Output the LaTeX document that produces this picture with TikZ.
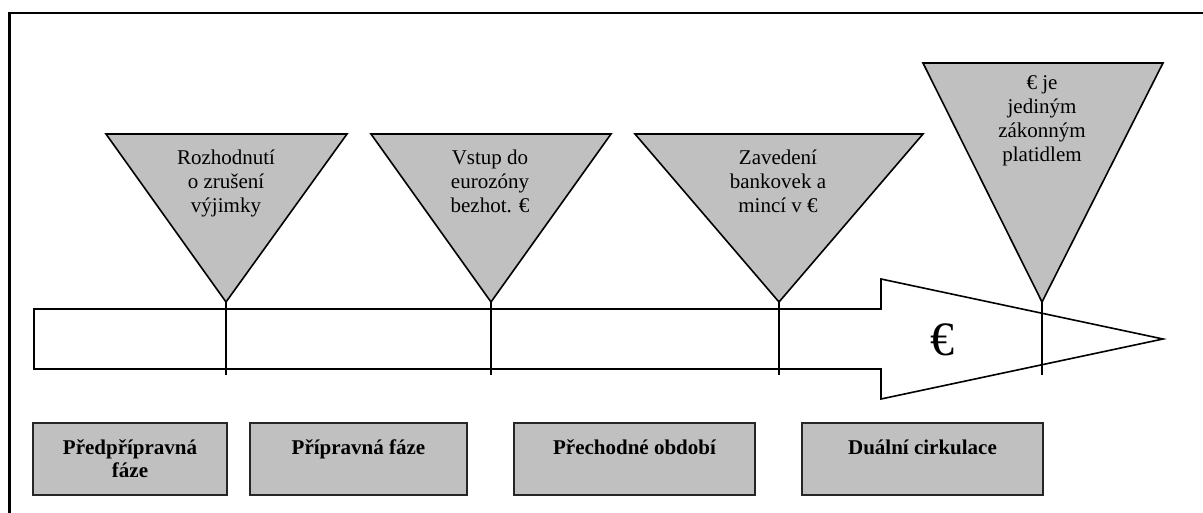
\documentclass[tikz,border=0pt]{standalone}
\usepackage{fontspec}
\setmainfont{Liberation Serif}
\definecolor{phasegray}{HTML}{C0C0C0}
\tikzset{
  frame/.style={line width=2.5pt, black},
  marker/.style={fill=phasegray, draw=black, line width=1.6pt, line join=miter},
  timeline/.style={fill=white, draw=black, line width=1.6pt, line join=miter},
  tick/.style={draw=black, line width=1.8pt},
  event/.style={font=\fontsize{21}{24}\selectfont, align=center, inner sep=0pt, anchor=base},
  phase/.style={fill=phasegray, draw=black!85, line width=2.4pt, minimum height=72pt, inner sep=0pt},
  phasetext/.style={font=\fontsize{21}{23}\selectfont\bfseries, align=center, inner sep=0pt, anchor=base},
}
\begin{document}
\begin{tikzpicture}[x=1pt, y=-1pt]
\useasboundingbox (0,0) rectangle (1203,513);

% outer frame (open to the right and bottom)
\draw[frame] (9.5,513) -- (9.5,13) -- (1203,13);

% time arrow
\draw[timeline] (34,309) -- (881,309) -- (881,279) -- (1163,339)
  -- (881,399) -- (881,369) -- (34,369) -- cycle;
\node[font=\fontsize{48}{48}\selectfont, inner sep=0pt] (eur) at (942,340) {€};

% milestone markers
\coordinate (a1) at (226,302);
\coordinate (a2) at (491,302);
\coordinate (a3) at (779,302);
\coordinate (a4) at (1042,302);
\coordinate (e1) at (226,375);
\coordinate (e2) at (491,375);
\coordinate (e3) at (779,375);
\coordinate (e4) at (1042,375);

\draw[marker] (106,134) -- (347,134) -- (a1) -- cycle;
\draw[marker] (371,134) -- (611,134) -- (a2) -- cycle;
\draw[marker] (635,134) -- (923,134) -- (a3) -- cycle;
\draw[marker] (923,63) -- (1163,63) -- (a4) -- cycle;

\draw[tick] (a1) -- (e1);
\draw[tick] (a2) -- (e2);
\draw[tick] (a3) -- (e3);
\draw[tick] (a4) -- (e4);

% event labels, placed on the baseline of their last line
\node[event] (t1) at (226,213) {Rozhodnutí\\o zrušení\\výjimky};
\node[event] (t2) at (490,213) {Vstup do\\eurozóny\\bezhot. €};
\node[event] (t3) at (778,213) {Zavedení\\bankovek a\\mincí v €};
\node[event] (t4) at (1042,162) {€ je\\jediným\\zákonným\\platidlem};

% phases
\node[phase, minimum width=194pt] (p1) at (130,459) {};
\node[phase, minimum width=217pt] (p2) at (358.5,459) {};
\node[phase, minimum width=241pt] (p3) at (634.5,459) {};
\node[phase, minimum width=241pt] (p4) at (922.5,459) {};

\node[phasetext] (p1t) at (130,477) {Předpřípravná\\fáze};
\node[phasetext] (p2t) at (358.5,454) {Přípravná fáze};
\node[phasetext] (p3t) at (634.5,454) {Přechodné období};
\node[phasetext] (p4t) at (922.5,454) {Duální cirkulace};
\end{tikzpicture}
\end{document}
